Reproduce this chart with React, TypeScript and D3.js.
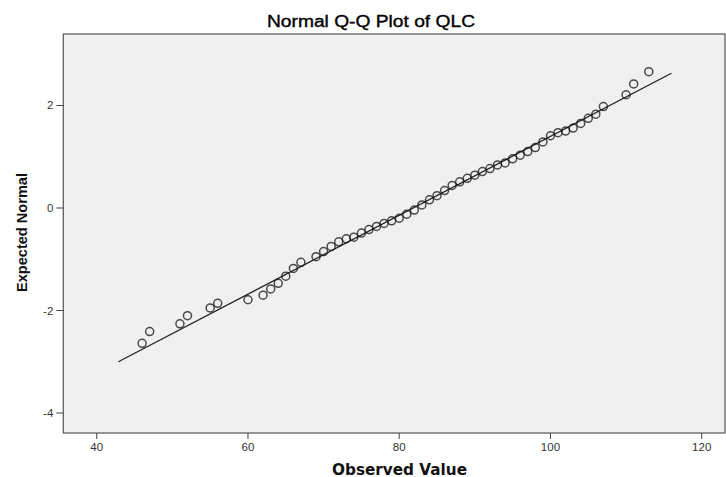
import * as d3 from "d3";

const observed = [
  46, 47, 51, 52, 55, 56, 60, 62, 63, 64, 65, 66, 67, 69, 70, 71, 72, 73, 74,
  75, 76, 77, 78, 79, 80, 81, 82, 83, 84, 85, 86, 87, 88, 89, 90, 91, 92, 93,
  94, 95, 96, 97, 98, 99, 100, 101, 102, 103, 104, 105, 106, 107, 110, 111, 113,
];
const expected = [
  -2.64, -2.41, -2.26, -2.1, -1.95, -1.86, -1.79, -1.7, -1.58, -1.47, -1.33,
  -1.18, -1.06, -0.95, -0.85, -0.75, -0.66, -0.6, -0.57, -0.49, -0.42, -0.36,
  -0.3, -0.25, -0.2, -0.12, -0.04, 0.06, 0.16, 0.24, 0.34, 0.44, 0.51, 0.58,
  0.64, 0.71, 0.77, 0.84, 0.88, 0.96, 1.03, 1.1, 1.18, 1.29, 1.41, 1.47, 1.5,
  1.56, 1.65, 1.75, 1.83, 1.98, 2.21, 2.42, 2.66,
];

// reference line end points
const lineX = [42.86, 116.0];
const lineY = [-3.0, 2.63];

const xTicks = [40, 60, 80, 100, 120];
const yTicks = [2, 0, -2, -4];

const W = 726;
const H = 477;
const frame = { left: 63.3, top: 34, right: 725, bottom: 433 };

export default function App() {
  const x = d3.scaleLinear().domain([35.58, 123.08]).range([frame.left, frame.right]);
  const y = d3.scaleLinear().domain([-4.39, 3.395]).range([frame.bottom, frame.top]);

  const pts = observed.map((v, i) => ({ ox: v, ey: expected[i] }));
  const refLine = d3
    .line<number>()
    .x((d) => x(d))
    .y((d, i) => y(lineY[i]));

  return (
    <svg
      width={W}
      height={H}
      style={{ position: "absolute", left: 0, top: 0, background: "#fff" }}
      fontFamily="'Liberation Sans', Arial, sans-serif"
    >
      <text
        x={371}
        y={27}
        textAnchor="middle"
        fontSize={16}
        fill="#000"
        stroke="#000"
        strokeWidth={0.35}
        textLength={208}
        lengthAdjust="spacingAndGlyphs"
      >
        Normal Q-Q Plot of QLC
      </text>

      {/* plot area */}
      <rect
        x={frame.left}
        y={frame.top}
        width={frame.right - frame.left}
        height={frame.bottom - frame.top}
        fill="#f0f0f0"
        stroke="#555"
        strokeWidth={1.2}
      />

      {/* y axis */}
      {yTicks.map((t) => (
        <g key={"y" + t}>
          <line x1={frame.left - 7} x2={frame.left} y1={y(t)} y2={y(t)} stroke="#444" strokeWidth={1} />
          <text x={frame.left - 10} y={y(t) + 4} textAnchor="end" fontSize={11.5} fill="#333">
            {t}
          </text>
        </g>
      ))}

      {/* x axis */}
      {xTicks.map((t) => (
        <g key={"x" + t}>
          <line x1={x(t)} x2={x(t)} y1={frame.bottom} y2={frame.bottom + 6} stroke="#444" strokeWidth={1} />
          <text x={x(t)} y={450.5} textAnchor="middle" fontSize={11.5} fill="#333">
            {t}
          </text>
        </g>
      ))}

      <path d={refLine(lineX) || ""} fill="none" stroke="#222" strokeWidth={1.3} />

      {pts.map((p, i) => (
        <circle
          key={i}
          cx={x(p.ox)}
          cy={y(p.ey)}
          r={4}
          fill="none"
          stroke="#111"
          strokeOpacity={0.75}
          strokeWidth={1.5}
        />
      ))}

      <text
        transform="translate(26.5,232.5) rotate(-90)"
        textAnchor="middle"
        fontSize={14.5}
        fontWeight="bold"
        fill="#111"
        textLength={119}
        lengthAdjust="spacingAndGlyphs"
      >
        Expected Normal
      </text>
      <text
        x={399.5}
        y={474.5}
        textAnchor="middle"
        fontSize={15}
        fontWeight="bold"
        fontFamily="'DejaVu Sans', sans-serif"
        fill="#111"
        textLength={135}
        lengthAdjust="spacingAndGlyphs"
      >
        Observed Value
      </text>
    </svg>
  );
}
